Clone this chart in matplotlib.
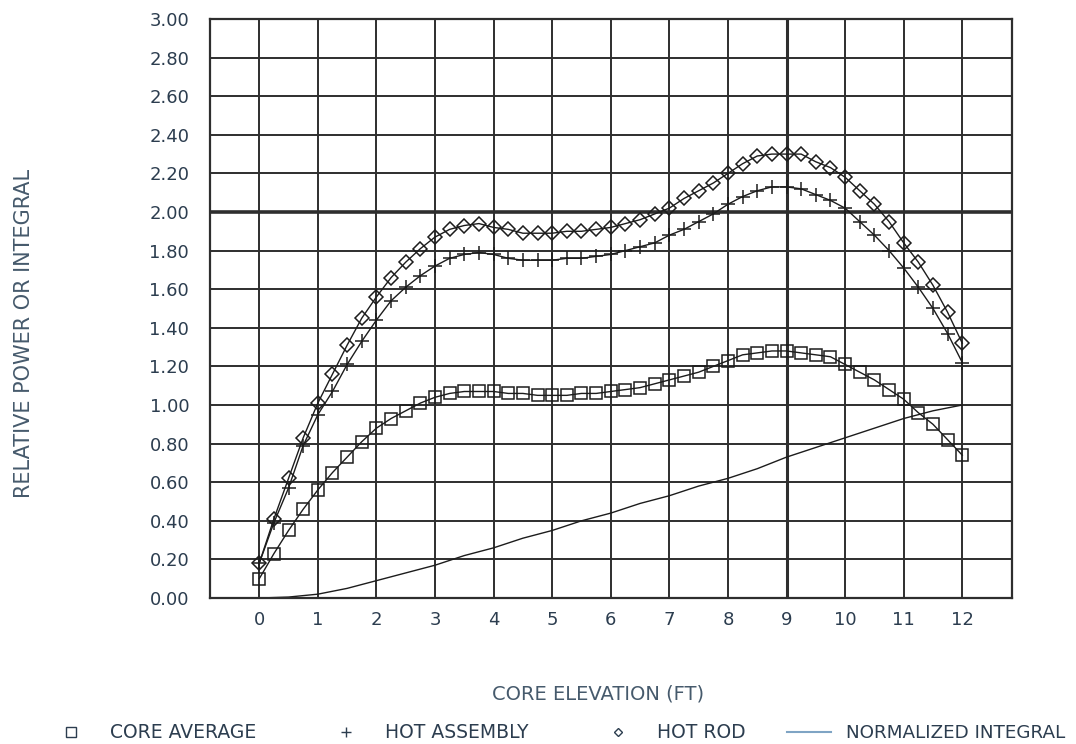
import matplotlib
matplotlib.use("Agg")
import matplotlib.pyplot as plt
from matplotlib.lines import Line2D

# axial nodes (ft) for the power shapes
elevation = [0.0, 0.25, 0.5, 0.75, 1.0, 1.25, 1.5, 1.75, 2.0, 2.25, 2.5, 2.75,
             3.0, 3.25, 3.5, 3.75, 4.0, 4.25, 4.5, 4.75, 5.0, 5.25, 5.5, 5.75,
             6.0, 6.25, 6.5, 6.75, 7.0, 7.25, 7.5, 7.75, 8.0, 8.25, 8.5, 8.75,
             9.0, 9.25, 9.5, 9.75, 10.0, 10.25, 10.5, 10.75, 11.0, 11.25, 11.5,
             11.75, 12.0]

core_average = [0.10, 0.23, 0.35, 0.46, 0.56, 0.65, 0.73, 0.81, 0.88, 0.93, 0.97, 1.01,
                1.04, 1.06, 1.07, 1.07, 1.07, 1.06, 1.06, 1.05, 1.05, 1.05, 1.06, 1.06,
                1.07, 1.08, 1.09, 1.11, 1.13, 1.15, 1.17, 1.20, 1.23, 1.26, 1.27, 1.28,
                1.28, 1.27, 1.26, 1.25, 1.21, 1.17, 1.13, 1.08, 1.03, 0.96, 0.90,
                0.82, 0.74]

hot_assembly = [0.18, 0.39, 0.57, 0.79, 0.95, 1.07, 1.21, 1.33, 1.44, 1.54, 1.61, 1.67,
                1.72, 1.76, 1.78, 1.79, 1.78, 1.76, 1.75, 1.75, 1.75, 1.76, 1.76, 1.77,
                1.78, 1.80, 1.82, 1.84, 1.88, 1.91, 1.95, 1.99, 2.04, 2.08, 2.11, 2.13,
                2.13, 2.12, 2.09, 2.06, 2.02, 1.95, 1.88, 1.80, 1.71, 1.61, 1.50,
                1.37, 1.22]

hot_rod = [0.18, 0.41, 0.62, 0.83, 1.01, 1.16, 1.31, 1.45, 1.56, 1.66, 1.74, 1.81,
           1.87, 1.91, 1.93, 1.94, 1.92, 1.91, 1.89, 1.89, 1.89, 1.90, 1.90, 1.91,
           1.92, 1.94, 1.96, 1.99, 2.02, 2.07, 2.11, 2.15, 2.20, 2.25, 2.29, 2.30,
           2.30, 2.30, 2.26, 2.23, 2.18, 2.11, 2.04, 1.95, 1.84, 1.74, 1.62,
           1.48, 1.32]

integral_elev = [0.0, 0.5, 1.0, 1.5, 2.0, 2.5, 3.0, 3.5, 4.0, 4.5, 5.0, 5.5, 6.0,
                 6.5, 7.0, 7.5, 8.0, 8.5, 9.0, 9.5, 10.0, 10.5, 11.0, 11.5, 12.0]
normalized_integral = [0.0, 0.005, 0.02, 0.05, 0.09, 0.13, 0.17, 0.22, 0.26, 0.31,
                       0.35, 0.40, 0.44, 0.49, 0.53, 0.58, 0.62, 0.67, 0.73, 0.78,
                       0.83, 0.88, 0.93, 0.97, 1.00]

x_ticks = list(range(0, 13))
y_ticks = [0.0, 0.2, 0.4, 0.6, 0.8, 1.0, 1.2, 1.4, 1.6, 1.8, 2.0, 2.2, 2.4, 2.6, 2.8, 3.0]

INK = "#1c1c1c"
GRID = "#2e2e2e"
TEXT = "#2c3d4f"
LABEL = "#465a6c"

fig = plt.figure(figsize=(10.76, 7.44), dpi=100)
ax = fig.add_axes([0.1952, 0.1962, 0.7454, 0.7783])

ax.plot(elevation, core_average, color=INK, lw=1.0, marker="s", ms=9,
        mfc="none", mec=INK, mew=1.1)
ax.plot(elevation, hot_assembly, color=INK, lw=1.0, marker="+", ms=10,
        mec=INK, mew=1.1)
ax.plot(elevation, hot_rod, color=INK, lw=1.0, marker="D", ms=7,
        mfc="none", mec=INK, mew=1.1)
ax.plot(integral_elev, normalized_integral, color=INK, lw=1.0)

ax.set_xlim(-0.84, 12.85)
ax.set_ylim(0, 3.0)
ax.set_xticks(x_ticks)
ax.set_yticks(y_ticks)
ax.set_yticklabels([f"{v:.2f}" for v in y_ticks])
ax.tick_params(length=0, labelsize=13, labelcolor=TEXT)
ax.tick_params(axis="x", pad=9)
ax.tick_params(axis="y", pad=15)
ax.grid(True, color=GRID, lw=1.4)
ax.set_axisbelow(True)
ax.axhline(2.0, color=GRID, lw=2.6, zorder=0.5)
ax.axvline(9, color=GRID, lw=2.2, zorder=0.5)
for s in ax.spines.values():
    s.set_color(GRID)
    s.set_linewidth(1.6)

fig.text(598 / 1076, 1 - 694 / 744, "CORE ELEVATION (FT)", ha="center",
         va="center", fontsize=14, color=LABEL)
fig.text(24 / 1076, 1 - 333 / 744, "RELATIVE POWER OR INTEGRAL", ha="center",
         va="center", rotation=90, fontsize=15, color=LABEL)

# legend row along the bottom, one entry per series
y_leg = 1 - 733 / 744
fs_leg = 13.5
entries = [
    (Line2D([], [], ls="none", marker="s", ms=7, mfc="none", mec=TEXT, mew=1.0),
     "CORE AVERAGE", 48 / 1076),
    (Line2D([], [], ls="none", marker="+", ms=7, mec=TEXT, mew=1.0),
     "HOT ASSEMBLY", 323 / 1076),
    (Line2D([], [], ls="none", marker="D", ms=4.5, mfc="none", mec=TEXT, mew=1.0),
     "HOT ROD", 595 / 1076),
]
for handle, text, x0 in entries:
    fig.legend(handles=[handle], labels=[text], loc="center left",
               bbox_to_anchor=(x0, y_leg), frameon=False, fontsize=fs_leg,
               labelcolor=TEXT, handlelength=2.4, handletextpad=0.9,
               borderpad=0, borderaxespad=0)
fig.legend(handles=[Line2D([], [], color="#7fa4c4", lw=1.5)],
           labels=["NORMALIZED INTEGRAL"], loc="center left",
           bbox_to_anchor=(787 / 1076, y_leg), frameon=False, fontsize=13.2,
           labelcolor=TEXT, handlelength=2.4, handletextpad=0.8,
           borderpad=0, borderaxespad=0)

fig.savefig("out.png", dpi=100)
